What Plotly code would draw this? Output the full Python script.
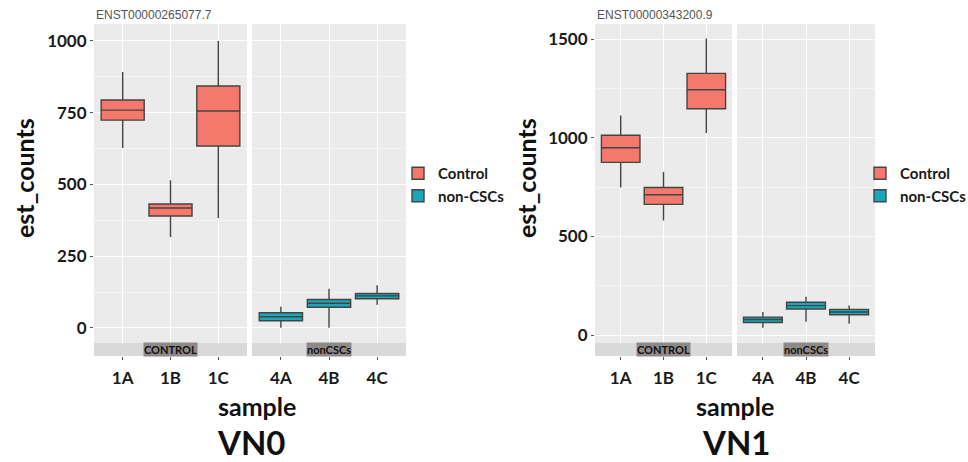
import plotly.graph_objects as go

W, H = 968, 462

# ---------------- data ----------------
ctrl_samples = ["1A", "1B", "1C"]
ncsc_samples = ["4A", "4B", "4C"]

# VN0 (ENST00000265077.7)
vn0_ctrl_low = [627, 317, 383]
vn0_ctrl_q1 = [724, 390, 634]
vn0_ctrl_med = [759, 418, 756]
vn0_ctrl_q3 = [794, 432, 843]
vn0_ctrl_high = [892, 515, 1000]

vn0_ncsc_low = [1, 1, 81]
vn0_ncsc_q1 = [25, 72, 102]
vn0_ncsc_med = [39, 86, 112]
vn0_ncsc_q3 = [53, 99, 120]
vn0_ncsc_high = [74, 137, 149]

# VN1 (ENST00000343200.9)
vn1_ctrl_low = [748, 580, 1024]
vn1_ctrl_q1 = [875, 662, 1147]
vn1_ctrl_med = [949, 711, 1243]
vn1_ctrl_q3 = [1012, 748, 1326]
vn1_ctrl_high = [1113, 826, 1503]

vn1_ncsc_low = [37, 67, 57]
vn1_ncsc_q1 = [64, 132, 103]
vn1_ncsc_med = [79, 149, 117]
vn1_ncsc_q3 = [91, 166, 130]
vn1_ncsc_high = [117, 194, 150]

vn0_yticks = [0, 250, 500, 750, 1000]
vn1_yticks = [0, 500, 1000, 1500]

# ---------------- styling ----------------
CTRL = "#f5786c"
NCSC = "#19a7ba"
EDGE = "#444444"
PANEL = "#ebebeb"
FONT = "Lato"


def px_x(p):
    return p / W


def px_y(p):
    return 1 - p / H


fig = go.Figure()


def add_box(name, x, low, q1, med, q3, high, color, xa, ya, legend, show):
    fig.add_trace(go.Box(
        name=name, x=x, q1=q1, median=med, q3=q3,
        lowerfence=low, upperfence=high,
        fillcolor=color, line=dict(color=EDGE, width=1.4),
        width=0.9, boxpoints=False, whiskerwidth=0,
        xaxis=xa, yaxis=ya, legend=legend, showlegend=show,
        legendgroup=name + legend,
    ))


add_box("Control", ctrl_samples, vn0_ctrl_low, vn0_ctrl_q1, vn0_ctrl_med,
        vn0_ctrl_q3, vn0_ctrl_high, CTRL, "x", "y", "legend", True)
add_box("non-CSCs", ncsc_samples, vn0_ncsc_low, vn0_ncsc_q1, vn0_ncsc_med,
        vn0_ncsc_q3, vn0_ncsc_high, NCSC, "x2", "y", "legend", True)
add_box("Control", ctrl_samples, vn1_ctrl_low, vn1_ctrl_q1, vn1_ctrl_med,
        vn1_ctrl_q3, vn1_ctrl_high, CTRL, "x3", "y2", "legend2", True)
add_box("non-CSCs", ncsc_samples, vn1_ncsc_low, vn1_ncsc_q1, vn1_ncsc_med,
        vn1_ncsc_q3, vn1_ncsc_high, NCSC, "x4", "y2", "legend2", True)

tickfont = dict(family=FONT, size=17, color="#1a1a1a", weight="bold")


def xaxis(dom, cats, anchor):
    return dict(
        domain=[px_x(dom[0]), px_x(dom[1])], anchor=anchor,
        type="category", categoryorder="array", categoryarray=cats,
        range=[-0.6, 2.6], showgrid=True, gridcolor="white", gridwidth=1.2,
        ticks="outside", ticklen=3, tickcolor="#555", tickwidth=1,
        tickfont=tickfont, zeroline=False, showline=False,
        ticklabelstandoff=4, fixedrange=True, automargin=False,
    )


def yaxis(rng, ticks, minor_dt, anchor):
    return dict(
        domain=[px_y(356), px_y(24)], anchor=anchor, range=rng,
        tickvals=ticks, ticktext=[str(t) for t in ticks],
        showgrid=True, gridcolor="white", gridwidth=1.2,
        minor=dict(dtick=minor_dt, tick0=minor_dt, showgrid=True,
                   gridcolor="#f4f4f4", gridwidth=0.6),
        ticks="outside", ticklen=3, tickcolor="#555", tickwidth=1,
        tickfont=tickfont, zeroline=False, showline=False, fixedrange=True,
        automargin=False,
    )


legfont = dict(family=FONT, size=15, color="#1a1a1a", weight="bold")

fig.update_layout(
    width=W, height=H,
    margin=dict(l=0, r=0, t=0, b=0, autoexpand=False),
    paper_bgcolor="white", plot_bgcolor=PANEL,
    font=dict(family=FONT, color="#1a1a1a"),
    xaxis=xaxis((94, 247), ctrl_samples, "y"),
    xaxis2=xaxis((252, 406), ncsc_samples, "y"),
    xaxis3=xaxis((595, 732), ctrl_samples, "y2"),
    xaxis4=xaxis((737, 875), ncsc_samples, "y2"),
    yaxis=yaxis([-97.6, 1059], vn0_yticks, 125, "x"),
    yaxis2=yaxis([-106, 1576], vn1_yticks, 250, "x3"),
    legend=dict(x=px_x(398), y=px_y(157), xanchor="left", yanchor="top",
                font=legfont, bgcolor="rgba(0,0,0,0)", itemwidth=30,
                tracegroupgap=0),
    legend2=dict(x=px_x(860), y=px_y(157), xanchor="left", yanchor="top",
                 font=legfont, bgcolor="rgba(0,0,0,0)", itemwidth=30,
                 tracegroupgap=0),
)

# strips at the bottom of each facet
strips = [((94, 247), "CONTROL"), ((252, 406), "nonCSCs"),
          ((595, 732), "CONTROL"), ((737, 875), "nonCSCs")]
for (a, b), lab in strips:
    fig.add_shape(type="rect", xref="paper", yref="paper",
                  x0=px_x(a), x1=px_x(b), y0=px_y(356), y1=px_y(343),
                  fillcolor="#d9d9d9", line=dict(width=0), layer="above")
    fig.add_annotation(x=px_x((a + b) / 2), y=px_y(349.5), xref="paper",
                       yref="paper", text=lab, showarrow=False,
                       xanchor="center", yanchor="middle",
                       font=dict(family=FONT, size=11, color="#111", weight="bold"),
                       bgcolor="#8e8888", borderpad=0)

# titles and labels
small = dict(family="Liberation Sans", size=12, color="#555")
big = dict(family=FONT, size=25, color="#111", weight="bold")
huge = dict(family=FONT, size=33, color="#111", weight="bold")
labels = [
    (94, 15, "ENST00000265077.7", small, "left", 0),
    (595, 15, "ENST00000343200.9", small, "left", 0),
    (24, 178, "est_counts", big, "center", -90),
    (526, 178, "est_counts", big, "center", -90),
    (257, 406, "sample", big, "center", 0),
    (735, 406, "sample", big, "center", 0),
    (251, 442, "VN0", huge, "center", 0),
    (736, 442, "VN1", huge, "center", 0),
]
for x, y, t, f, anc, ang in labels:
    fig.add_annotation(x=px_x(x), y=px_y(y), xref="paper", yref="paper",
                       text=t, showarrow=False, font=f, xanchor=anc,
                       yanchor="middle", textangle=ang)

fig.write_html("out.html")
